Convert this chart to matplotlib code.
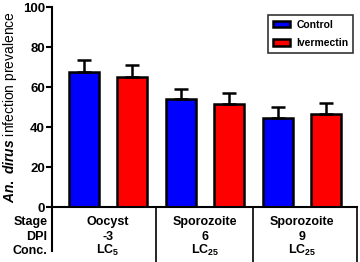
import numpy as np
import matplotlib
matplotlib.use("Agg")
import matplotlib.pyplot as plt
from matplotlib.lines import Line2D

plt.rcParams['font.family'] = 'Liberation Sans'
plt.rcParams['font.weight'] = 'bold'
plt.rcParams['mathtext.fontset'] = 'custom'
plt.rcParams['mathtext.bf'] = 'Liberation Sans:bold'
plt.rcParams['mathtext.it'] = 'Liberation Sans:italic:bold'
plt.rcParams['mathtext.rm'] = 'Liberation Sans:bold'
plt.rcParams['mathtext.default'] = 'bf'

# data
stages = ['Oocyst', 'Sporozoite', 'Sporozoite']
dpi_days = ['-3', '6', '9']
conc = ['LC$_{5}$', 'LC$_{25}$', 'LC$_{25}$']
control = [67.6, 53.8, 44.7]
control_err = [5.9, 5.2, 5.1]
ivermectin = [65.2, 51.3, 46.7]
ivermectin_err = [5.8, 5.5, 5.5]

fig = plt.figure(figsize=(3.6, 2.62), dpi=100)
ax = fig.add_axes([52 / 360, 1 - 207 / 262, 305 / 360, 200 / 262])

x = np.arange(len(stages)) * 2
w = 0.62
err_kw = dict(ecolor='black', elinewidth=1.8, capsize=5, capthick=1.8)
ax.bar(x, control, w, color='#0000ff', edgecolor='black', linewidth=1.8,
       yerr=[np.zeros(3), control_err], error_kw=err_kw, label='Control', zorder=2)
ax.bar(x + 1, ivermectin, w, color='#ff0000', edgecolor='black', linewidth=1.8,
       yerr=[np.zeros(3), ivermectin_err], error_kw=err_kw, label='Ivermectin', zorder=2)

ax.set_xlim(-0.657, 5.64)
ax.set_ylim(0, 100)
ax.set_yticks([0, 20, 40, 60, 80, 100])
ax.tick_params(axis='y', width=1.5, length=4, labelsize=9.5, pad=1)
ax.set_xticks([])
for s in ['top', 'right']:
    ax.spines[s].set_visible(False)
ax.spines['left'].set_linewidth(1.5)
ax.spines['bottom'].set_linewidth(1.5)
ax.set_ylabel(r'$\mathit{An.\ dirus}$ infection prevalence', fontsize=10, labelpad=3)

# table under the axis
trans = ax.get_xaxis_transform()
ax.add_line(Line2D([-0.657, -0.657], [0, -44 / 200], transform=trans,
                   color='black', lw=1.5, clip_on=False))
for xv in [1.5, 3.5, 5.64]:
    ax.add_line(Line2D([xv, xv], [0, -55 / 200], transform=trans,
                       color='black', lw=1.2, clip_on=False))
rows = [stages, dpi_days, conc]
row_names = ['Stage', 'DPI', 'Conc.']
row_y = [-18 / 200, -32.5 / 200, -47 / 200]
for names, yv, rn in zip(rows, row_y, row_names):
    ax.text(-0.75, yv, rn, transform=trans, ha='right', va='baseline', fontsize=9)
    for i, t in enumerate(names):
        ax.text(x[i] + 0.5, yv, t, transform=trans, ha='center', va='baseline', fontsize=9)

leg = ax.legend(loc='upper right', bbox_to_anchor=(0.987, 0.96), fontsize=7.5,
                frameon=True, fancybox=False, edgecolor='black',
                handlelength=1.65, handleheight=0.6, handletextpad=0.6,
                borderpad=0.45, labelspacing=0.8, borderaxespad=0.0)
leg.get_frame().set_linewidth(1.2)

fig.savefig('out.png', dpi=100)
